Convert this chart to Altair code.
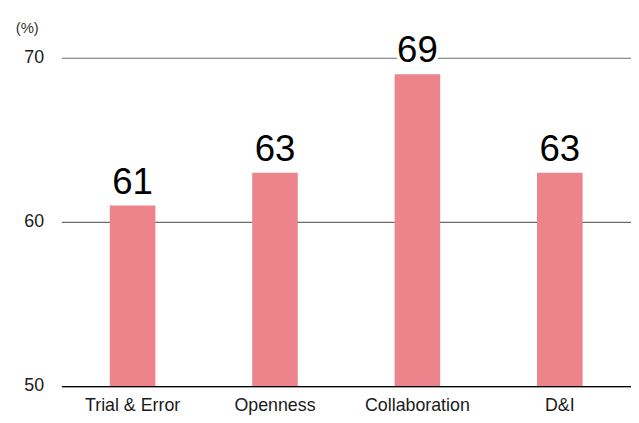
import altair as alt
import pandas as pd

categories = ["Trial & Error", "Openness", "Collaboration", "D&I"]
values = [61, 63, 69, 63]
y_ticks = [50, 60, 70]

df = pd.DataFrame({"category": categories, "value": values})

FONT = "Liberation Sans"
BAR = "#EE848B"

x_enc = alt.X(
    "category:N",
    sort=categories,
    scale=alt.Scale(paddingInner=0.68, paddingOuter=0.34),
    axis=alt.Axis(
        title=None, labelAngle=0, ticks=False, tickSize=0, domain=True,
        domainColor="#000000", domainWidth=1.3, labelPadding=11,
        labelFontSize=18, labelColor="#1a1a1a", labelFont=FONT, zindex=1,
    ),
)
y_scale = alt.Scale(domain=[50, 70], zero=False, nice=False)
y_enc = alt.Y(
    "value:Q",
    scale=y_scale,
    axis=alt.Axis(
        values=y_ticks, domain=False, ticks=False, tickSize=0, grid=True,
        gridColor="#6b6b6b", gridWidth=1.2, labelPadding=18, labelFontSize=18,
        labelColor="#1a1a1a", labelFont=FONT, labelBaseline="middle",
        title="(%)", titleAngle=0, titleX=-35, titleY=-31, titleAlign="center",
        titleBaseline="middle", titleFontSize=15, titleFontWeight="normal",
        titleColor="#333333", titleFont=FONT,
    ),
)

base = alt.Chart(df)

bars = base.mark_bar(color=BAR).encode(
    x=x_enc,
    y=y_enc,
    y2=alt.datum(50),
)

halo = base.mark_text(
    baseline="alphabetic", dy=-12, fontSize=37, font=FONT,
    fill="white", stroke="white", strokeWidth=7, strokeJoin="round",
).encode(x=alt.X("category:N", sort=categories), y=alt.Y("value:Q"), text="value:Q")

labels = base.mark_text(
    baseline="alphabetic", dy=-12, fontSize=37, font=FONT, color="#000000",
).encode(x=alt.X("category:N", sort=categories), y=alt.Y("value:Q"), text="value:Q")

chart = (
    alt.layer(bars, halo, labels)
    .properties(
        width=576, height=332, autosize="none",
        padding={"left": 54, "top": 48, "right": 0, "bottom": 27},
    )
    .configure_view(stroke=None)
)

chart.save("out.html", embed_options={"renderer": "svg", "actions": False})
